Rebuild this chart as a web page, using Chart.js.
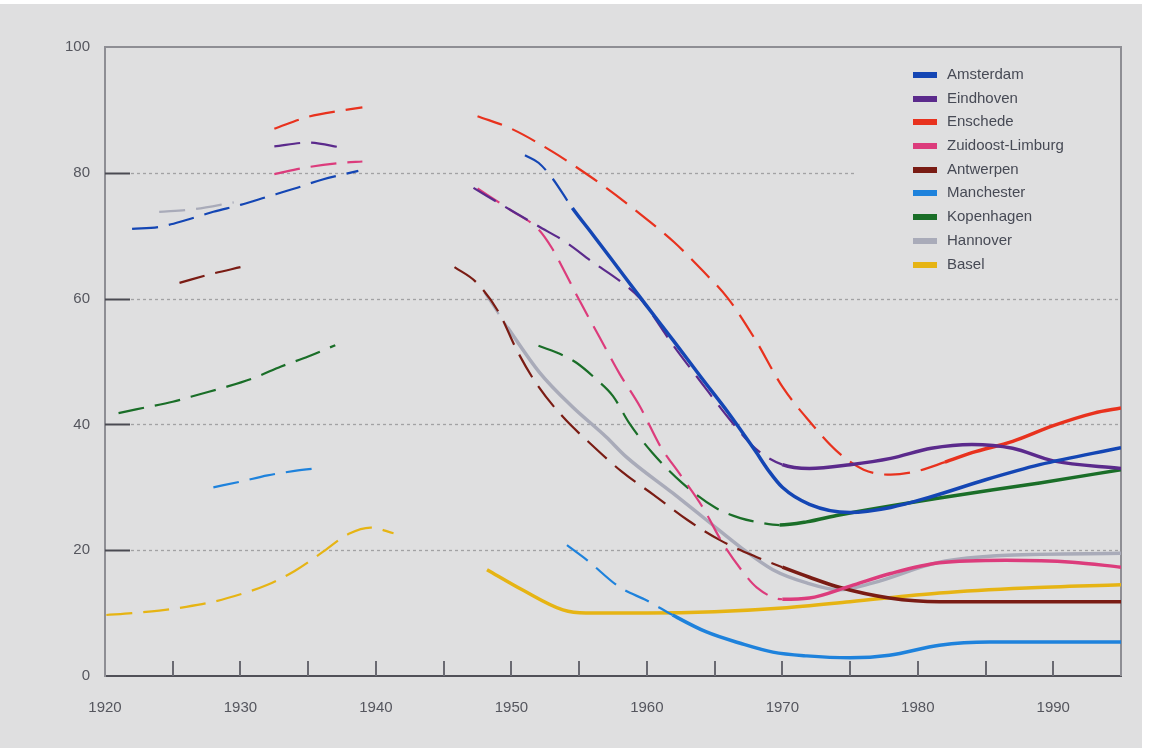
<!DOCTYPE html>
<html>
<head>
<meta charset="utf-8">
<script src="https://cdn.jsdelivr.net/npm/chart.js@4.4.1/dist/chart.umd.min.js"></script>
<style>
  body { margin: 0; background: #ffffff; }
  #wrap { position: relative; width: 1150px; height: 748px; }
  #paper { position: absolute; left: 0; top: 4px; width: 1142px; height: 744px; background: #dfdfe0; }
  #chart { position: absolute; left: 0; top: 0; }
  #legend { position: absolute; left: 913px; top: 62px; font-family: "Liberation Sans", Arial, sans-serif; font-size: 15px; color: #474a55; }
  #legend div { height: 23.7px; line-height: 23.7px; white-space: nowrap; }
  #legend span { display: inline-block; width: 24px; height: 6px; margin-right: 10px; vertical-align: middle; }
</style>
</head>
<body>
<div id="wrap">
  <div id="paper"></div>
  <canvas id="chart" width="1150" height="748"></canvas>
  <div id="legend"></div>
</div>
<script>
// [year, value]; a null value separates the pre-war and post-war pieces
const amsterdam = [[1922, 71.1], [1924, 71.4], [1926, 72.5], [1928, 73.8], [1930, 74.9], [1932, 76.2], [1934, 77.5], [1936, 78.9], [1938.7, 80.3], [1945, null],
  [1951, 82.8], [1952, 81.6], [1953, 79.2], [1954.5, 74.4], [1956, 70.2], [1958, 64.5], [1960, 58.8], [1962, 53.2], [1964, 47.5], [1966, 41.9], [1968, 35.8], [1969, 32.6], [1970, 30], [1972, 27.3], [1975, 26], [1978, 26.8], [1981, 28.5], [1985, 31.2], [1989, 33.6], [1995, 36.3]];
const eindhoven = [[1932.5, 84.2], [1935, 84.8], [1937.5, 84.0], [1945, null],
  [1947.2, 77.6], [1950, 74], [1952, 71.5], [1954, 69], [1956, 65.8], [1958, 62.8], [1959.5, 60], [1962, 52.4], [1964, 46.7], [1966, 41.1], [1968, 36.2], [1970, 33.6], [1972, 33], [1975, 33.6], [1978, 34.6], [1981, 36.2], [1984, 36.8], [1987, 36.2], [1990, 34.2], [1995, 33]];
const enschede = [[1932.5, 87], [1935, 88.9], [1937.5, 89.9], [1939, 90.4], [1945, null],
  [1947.5, 89], [1950, 87], [1953, 83.4], [1955, 80.6], [1957, 77.6], [1960, 72.6], [1962, 69], [1964, 64.7], [1966, 60], [1968, 53.5], [1970, 46], [1972, 40.5], [1974, 35.8], [1976, 32.8], [1978, 32], [1980, 32.6], [1982, 34], [1984, 35.5], [1987, 37.3], [1990, 39.8], [1993, 41.8], [1995, 42.6]];
const zuidoostLimburg = [[1932.5, 79.8], [1935, 80.9], [1937.5, 81.6], [1939, 81.8], [1945, null],
  [1947.5, 77.5], [1950, 74], [1952, 71], [1953, 68], [1954, 64], [1955, 59.8], [1956.5, 53.9], [1958, 48], [1959.5, 42.8], [1961, 36.5], [1962.4, 32.2], [1964.1, 26.9], [1965.6, 21.1], [1967, 16.8], [1968.1, 14.1], [1970, 12.2], [1972, 12.4], [1975, 14.3], [1978, 16.3], [1981.6, 18], [1986.5, 18.4], [1991.4, 18.1], [1995, 17.3]];
const antwerpen = [[1925.5, 62.5], [1928, 64], [1930, 65], [1945, null],
  [1945.8, 65], [1947.4, 62.6], [1949.1, 57.7], [1950.4, 51.8], [1951.9, 46.3], [1953.8, 41.2], [1955.8, 37], [1958.2, 32.4], [1960.5, 28.8], [1963, 24.8], [1965.4, 21.6], [1968, 19], [1970, 17.3], [1972, 15.7], [1974.2, 14.1], [1977.9, 12.4], [1981.6, 11.8], [1995, 11.8]];
const manchester = [[1928, 30], [1930, 30.9], [1932, 31.9], [1934, 32.6], [1936, 33.1], [1945, null],
  [1954.1, 20.8], [1955.6, 18.4], [1958, 14.1], [1960, 12], [1961.9, 9.7], [1964.4, 7], [1966.9, 5.2], [1969.3, 3.8], [1971.8, 3.2], [1975, 2.9], [1977.9, 3.3], [1981.6, 4.9], [1985.3, 5.4], [1995, 5.4]];
const kopenhagen = [[1921, 41.8], [1923, 42.7], [1925, 43.6], [1927, 44.8], [1929, 46], [1931, 47.4], [1933, 49.2], [1935, 50.8], [1937, 52.6], [1945, null],
  [1952, 52.5], [1953.8, 51], [1954.8, 49.8], [1956.3, 47.1], [1957.5, 44.5], [1958.7, 40.2], [1960.4, 35.5], [1962.6, 30.7], [1965.1, 26.7], [1966.9, 25.1], [1968.1, 24.5], [1969.8, 24], [1971.8, 24.5], [1974.2, 25.6], [1981.6, 28.3], [1989, 30.7], [1995, 32.8]];
const hannover = [[1924, 73.8], [1926.5, 74.2], [1929.5, 75.3], [1945, null],
  [1948, 61], [1949.7, 55.5], [1952.1, 48.2], [1954.5, 42.8], [1957, 38], [1958.5, 34.8], [1961.9, 29.1], [1964.4, 24.8], [1966.9, 20.5], [1969.3, 16.9], [1971.8, 14.8], [1974.2, 13.7], [1976.7, 14.8], [1981.6, 18.1], [1986.6, 19.2], [1995, 19.5]];
const basel = [[1920.1, 9.7], [1922, 10], [1924, 10.4], [1926, 11], [1928, 11.8], [1930, 13], [1932, 14.5], [1934, 16.7], [1936, 19.6], [1938, 22.6], [1939.6, 23.6], [1941.3, 22.7], [1945, null],
  [1948.2, 16.9], [1950.8, 13.7], [1953.8, 10.5], [1955.5, 10], [1960, 10], [1965, 10.2], [1970, 10.8], [1975, 11.8], [1981.6, 13.2], [1988, 14], [1995, 14.5]];

const cityNames = ["Amsterdam", "Eindhoven", "Enschede", "Zuidoost-Limburg", "Antwerpen", "Manchester", "Kopenhagen", "Hannover", "Basel"];
const citySeries = [amsterdam, eindhoven, enschede, zuidoostLimburg, antwerpen, manchester, kopenhagen, hannover, basel];
// year from which the line is drawn solid (before that: dashed)
const solidFrom = [1954.5, 1970, 1982, 1970, 1970, 1961.9, 1969.8, 1949.7, 1948];
const cityColors = ["#1446b4", "#5b2a8c", "#e8321e", "#dc3c7c", "#7a1c14", "#1e82dc", "#1a6e28", "#a9abb9", "#e6b414"];

const yTicks = [0, 20, 40, 60, 80, 100];
const gridValues = [20, 40, 60, 80];

const datasets = citySeries.map((series, i) => ({
  label: cityNames[i],
  data: series.map(([x, y]) => ({ x, y })),
  borderColor: cityColors[i],
  borderWidth: 2,
  pointRadius: 0,
  cubicInterpolationMode: "monotone",
  spanGaps: false,
  segment: {
    borderDash: (ctx) => (ctx.p0.parsed.x >= solidFrom[i] - 0.01 ? [] : [26, 11]),
    borderWidth: (ctx) => (ctx.p0.parsed.x >= solidFrom[i] - 0.01 ? 3.5 : 2.2),
  },
}));

const frame = {
  id: "frame",
  beforeDatasetsDraw(chart) {
    const { ctx, chartArea: a, scales } = chart;
    const x = scales.x, y = scales.y;
    ctx.save();
    // dotted grid lines
    ctx.strokeStyle = "#a2a2a4";
    ctx.lineWidth = 1.3;
    ctx.setLineDash([3, 3]);
    gridValues.forEach((v) => {
      const py = Math.round(y.getPixelForValue(v)) + 0.5;
      const end = v === 80 ? x.getPixelForValue(1975.3) : a.right;
      ctx.beginPath();
      ctx.moveTo(a.left + 26, py);
      ctx.lineTo(end, py);
      ctx.stroke();
    });
    ctx.setLineDash([]);
    // short dark ticks at the left axis
    ctx.strokeStyle = "#4a4a52";
    ctx.lineWidth = 2;
    gridValues.forEach((v) => {
      const py = Math.round(y.getPixelForValue(v)) + 0.5;
      ctx.beginPath();
      ctx.moveTo(a.left, py);
      ctx.lineTo(a.left + 25, py);
      ctx.stroke();
    });
    // upward ticks on the year axis
    ctx.strokeStyle = "#6a6a72";
    for (let yr = 1925; yr < 1995; yr += 5) {
      const px = Math.round(x.getPixelForValue(yr));
      ctx.beginPath();
      ctx.moveTo(px, a.bottom);
      ctx.lineTo(px, a.bottom - 15);
      ctx.stroke();
    }
    // top and right frame
    ctx.strokeStyle = "#8e8e94";
    ctx.beginPath();
    ctx.moveTo(a.left, a.top);
    ctx.lineTo(a.right, a.top);
    ctx.lineTo(a.right, a.bottom);
    ctx.stroke();
    ctx.restore();
  },
};

const tickFont = { family: "'Liberation Sans', Arial, sans-serif", size: 15 };

new Chart(document.getElementById("chart"), {
  type: "line",
  data: { datasets },
  options: {
    responsive: false,
    animation: false,
    events: [],
    layout: { padding: { top: 47, right: 29, left: 0, bottom: 0 } },
    plugins: { legend: { display: false }, tooltip: { enabled: false } },
    scales: {
      x: {
        type: "linear",
        min: 1920,
        max: 1995,
        afterFit: (s) => { s.height = 72; },
        grid: { display: false, drawTicks: false },
        border: { display: true, color: "#505058", width: 2 },
        ticks: {
          stepSize: 10,
          autoSkip: false,
          maxRotation: 0,
          padding: 23,
          color: "#55565e",
          font: tickFont,
          callback: (v) => (v % 10 === 0 ? String(v) : ""),
        },
      },
      y: {
        min: 0,
        max: 100,
        afterFit: (s) => { s.width = 105; },
        afterBuildTicks: (s) => { s.ticks = yTicks.map((v) => ({ value: v })); },
        grid: { display: false, drawTicks: false },
        border: { display: true, color: "#8e8e94", width: 2 },
        ticks: { padding: 15, color: "#55565e", font: tickFont },
      },
    },
  },
  plugins: [frame],
});

const legend = document.getElementById("legend");
cityNames.forEach((name, i) => {
  const row = document.createElement("div");
  const sw = document.createElement("span");
  sw.style.background = cityColors[i];
  row.appendChild(sw);
  row.appendChild(document.createTextNode(name));
  legend.appendChild(row);
});
</script>
</body>
</html>
